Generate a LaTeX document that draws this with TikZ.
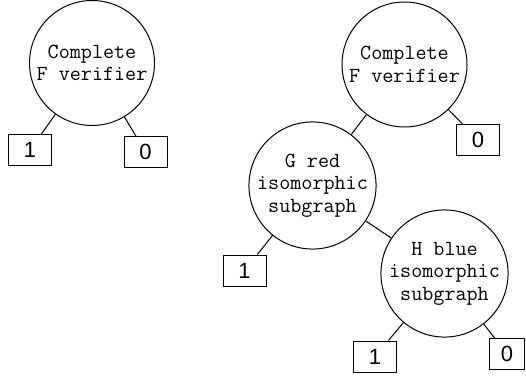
\documentclass[tikz,border=0pt]{standalone}
\usepackage{fontspec}
\setmainfont{Liberation Sans}

\begin{document}
\begin{tikzpicture}[x=1pt,y=-1pt,line width=1pt,
    check/.style={circle,draw,minimum size=125pt,inner sep=0pt,align=center,
      font=\ttfamily\fontsize{21.5}{22.5}\selectfont},
    result/.style={rectangle,draw,minimum width=43pt,minimum height=31pt,inner sep=0pt,
      font=\fontsize{22}{24}\selectfont}]

  \useasboundingbox (0,0) rectangle (526,379);

  % single verifier
  \node[check] (fverif) at (92,63) {Complete\\F verifier};
  \node[result] (fone) at (30,150) {1};
  \node[result] (fzero) at (145.5,152) {0};

  \draw (fverif) -- (fone);
  \draw (fverif) -- (fzero);

  % verifier with subgraph checks
  \node[check] (fverifb) at (404.5,64.5) {Complete\\F verifier};
  \node[result] (fzerob) at (478,140) {0};
  \node[check] (gred) at (312.5,185.5) {G red\\isomorphic\\subgraph};
  \node[result] (gone) at (244.5,270.5) {1};
  \node[check] (hblue) at (444.5,273.5) {H blue\\isomorphic\\subgraph};
  \node[result] (hone) at (375,356.5) {1};
  \node[result,minimum width=35pt] (hzero) at (507,354) {0};

  \draw (fverifb) -- (gred);
  \draw (fverifb) -- (fzerob);
  \draw (gred) -- (gone);
  \draw (gred) -- (hblue);
  \draw (hblue) -- (hone);
  \draw (hblue) -- (hzero);

\end{tikzpicture}
\end{document}
